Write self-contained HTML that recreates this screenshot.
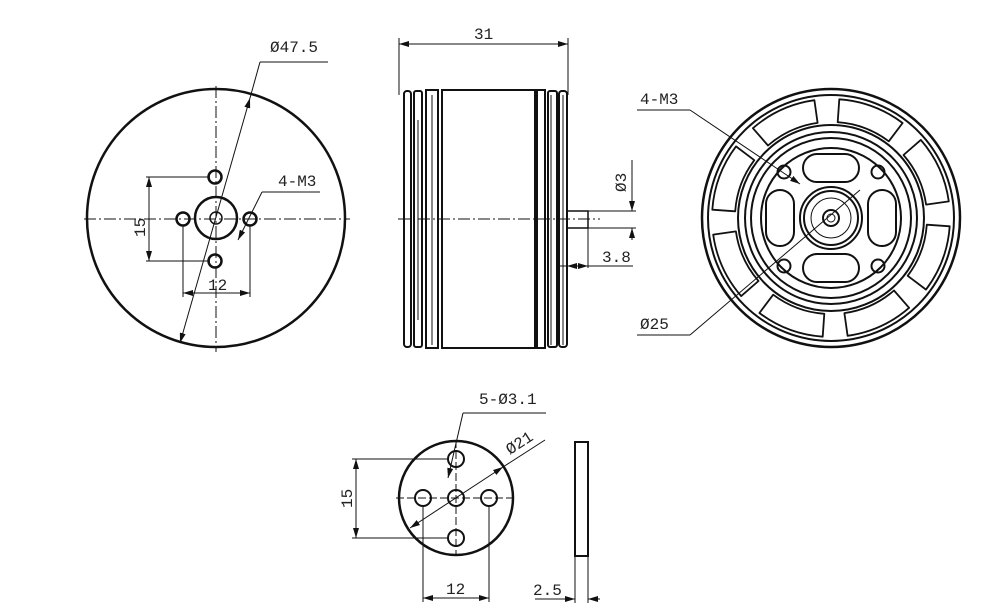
<!DOCTYPE html>
<html><head><meta charset="utf-8"><style>
html,body{margin:0;padding:0;background:#fff;}
svg{display:block;}
text{font-family:"Liberation Mono","DejaVu Sans Mono",monospace;font-size:16px;fill:#222;stroke:none;font-weight:normal;}
</style></head><body>
<svg id="s" width="1002" height="614" viewBox="0 0 1002 614" xmlns="http://www.w3.org/2000/svg" stroke="#111" fill="none">
<defs><marker id="a" viewBox="0 0 10 6" refX="10" refY="3" markerWidth="10" markerHeight="6" orient="auto-start-reverse" markerUnits="userSpaceOnUse"><path d="M0 0L10 3L0 6Z" fill="#111" stroke="none"/></marker></defs>
<!-- LEFT VIEW -->
<circle cx="216" cy="218" r="129" stroke-width="2.5"/>
<g stroke-width="1" stroke-dasharray="12,3,2,3">
<line x1="84" y1="219" x2="350" y2="219"/><line x1="216" y1="86" x2="216" y2="352"/>
</g>
<circle cx="216" cy="218" r="21" stroke-width="2.5"/>
<circle cx="216" cy="218" r="6" stroke-width="1.5"/>
<g stroke-width="2.5"><circle cx="215" cy="177" r="6.5"/><circle cx="215" cy="261" r="6.5"/><circle cx="183" cy="219" r="6.5"/><circle cx="250" cy="219" r="6.5"/></g>
<g stroke-width="1">
<line x1="146" y1="177" x2="210" y2="177"/><line x1="146" y1="261" x2="210" y2="261"/>
<line x1="149" y1="177" x2="149" y2="261" marker-start="url(#a)" marker-end="url(#a)"/>
<line x1="183" y1="225" x2="183" y2="297"/><line x1="250" y1="225" x2="250" y2="297"/>
<line x1="183" y1="293" x2="250" y2="293" marker-start="url(#a)" marker-end="url(#a)"/>
<line x1="180" y1="343" x2="250" y2="98" marker-start="url(#a)" marker-end="url(#a)"/><line x1="250" y1="98" x2="260" y2="62"/><line x1="260" y1="62" x2="328" y2="62"/>
<line x1="262" y1="192" x2="238" y2="240" marker-end="url(#a)"/><line x1="262" y1="192" x2="320" y2="192"/>
</g>
<text x="270" y="52">Ø47.5</text>
<text x="278" y="186">4-M3</text>
<text x="208" y="290">12</text>
<text transform="translate(145,237) rotate(-90)">15</text>
<!-- SIDE VIEW -->
<g stroke-width="1">
<line x1="399" y1="38" x2="399" y2="95"/><line x1="568" y1="38" x2="568" y2="95"/>
<line x1="399" y1="44" x2="568" y2="44" marker-start="url(#a)" marker-end="url(#a)"/>
</g>
<text x="474" y="39">31</text>
<g stroke-width="2">
<rect x="442" y="90" width="93" height="258"/>
<rect x="404" y="91" width="7" height="256" rx="3"/>
<rect x="414" y="91" width="8" height="256" rx="2"/>
<rect x="426" y="90" width="12" height="258"/>
<rect x="537" y="90" width="8" height="258"/>
<rect x="548" y="91" width="9" height="256" rx="2"/>
<rect x="559" y="91" width="8" height="256" rx="3"/>
<rect x="567" y="211" width="21" height="17" stroke-width="1.5"/>
</g>
<g stroke-width="1">
<line x1="418" y1="120" x2="418" y2="320"/><line x1="432" y1="95" x2="432" y2="345"/>
<line x1="551" y1="95" x2="551" y2="345"/><line x1="563" y1="95" x2="563" y2="345"/>
<line x1="398" y1="219" x2="600" y2="219" stroke-dasharray="12,3,2,3"/>
<line x1="588" y1="211" x2="636" y2="211"/><line x1="588" y1="228" x2="636" y2="228"/>
<line x1="632" y1="160" x2="632" y2="211" marker-end="url(#a)"/>
<line x1="632" y1="240" x2="632" y2="228" marker-end="url(#a)"/>
<line x1="588" y1="228" x2="588" y2="268"/>
<line x1="567" y1="266" x2="588" y2="266" marker-start="url(#a)" marker-end="url(#a)"/><line x1="560" y1="266" x2="633" y2="266"/>
</g>
<text transform="translate(626,192) rotate(-90)">Ø3</text>
<text x="602" y="262">3.8</text>
<!-- RIGHT VIEW -->
<g stroke-width="2">
<circle cx="831" cy="218" r="129" stroke-width="2.5"/>
<circle cx="831" cy="218" r="123"/>
<circle cx="831" cy="218" r="93"/>
<circle cx="831" cy="218" r="86"/>
<circle cx="831" cy="218" r="80"/>
<circle cx="831" cy="218" r="70"/>
<circle cx="831" cy="218" r="31"/>
<circle cx="831" cy="218" r="27"/>
<circle cx="831" cy="218" r="20" stroke-width="1"/>
<circle cx="831" cy="218" r="8"/>
<circle cx="831" cy="218" r="4" stroke-width="1"/>
<rect x="803" y="154" width="56" height="28" rx="14"/>
<rect x="803" y="254" width="56" height="28" rx="14"/>
<rect x="766" y="190" width="28" height="56" rx="14"/>
<rect x="868" y="190" width="28" height="56" rx="14"/>
<circle cx="784" cy="172" r="6.5"/><circle cx="878" cy="172" r="6.5"/>
<circle cx="784" cy="266" r="6.5"/><circle cx="878" cy="266" r="6.5"/>
</g>
<g stroke-width="1">
<line x1="637" y1="110" x2="690" y2="110"/><line x1="690" y1="110" x2="800" y2="184" marker-end="url(#a)"/>
<line x1="637" y1="335" x2="690" y2="335"/><line x1="690" y1="335" x2="860" y2="190"/>
</g>
<text x="640" y="104">4-M3</text>
<text x="640" y="329">Ø25</text>
<!-- BOTTOM PLATE -->
<circle cx="456" cy="498" r="57" stroke-width="2.5"/>
<g stroke-width="2"><circle cx="456" cy="498" r="8"/><circle cx="456" cy="459" r="8"/><circle cx="456" cy="538" r="8"/><circle cx="423" cy="498" r="8"/><circle cx="489" cy="498" r="8"/></g>
<g stroke-width="1">
<line x1="396" y1="498" x2="516" y2="498" stroke-dasharray="8,3"/>
<line x1="456" y1="440" x2="456" y2="556" stroke-dasharray="8,3"/>
<line x1="352" y1="459" x2="448" y2="459"/><line x1="352" y1="538" x2="448" y2="538"/>
<line x1="356" y1="459" x2="356" y2="538" marker-start="url(#a)" marker-end="url(#a)"/>
<line x1="423" y1="506" x2="423" y2="602"/><line x1="489" y1="506" x2="489" y2="602"/>
<line x1="423" y1="598" x2="489" y2="598" marker-start="url(#a)" marker-end="url(#a)"/>
<line x1="410" y1="528" x2="503" y2="467" marker-start="url(#a)" marker-end="url(#a)"/><line x1="503" y1="467" x2="545" y2="440"/>
<line x1="463" y1="413" x2="546" y2="413"/><line x1="463" y1="413" x2="448" y2="478" marker-end="url(#a)"/>
<line x1="575" y1="556" x2="575" y2="603"/><line x1="588" y1="556" x2="588" y2="603"/>
<line x1="535" y1="599" x2="575" y2="599" marker-end="url(#a)"/><line x1="600" y1="599" x2="588" y2="599" marker-end="url(#a)"/>
</g>
<rect x="575" y="442" width="13" height="114" stroke-width="2"/>
<text x="479" y="404">5-Ø3.1</text>
<text transform="translate(510,455) rotate(-33)">Ø21</text>
<text transform="translate(352,508) rotate(-90)">15</text>
<text x="446" y="594">12</text>
<text x="533" y="595">2.5</text>
<g id="pk" stroke-width="1.8"></g>
</svg>
<script>
(function(){var g=document.getElementById('pk'),cx=831,cy=218,r1=96,r2=119,s='';
var starts=[8,53,98,143,188,233,278,323];
starts.forEach(function(a){var b=a+33,A=a*Math.PI/180,B=b*Math.PI/180;
function p(r,t){return (cx+r*Math.cos(t)).toFixed(1)+' '+(cy-r*Math.sin(t)).toFixed(1);}
s+='<path d="M'+p(r1,A)+' A'+r1+' '+r1+' 0 0 0 '+p(r1,B)+' L'+p(r2,B)+' A'+r2+' '+r2+' 0 0 1 '+p(r2,A)+' Z" stroke-linejoin="round"/>';});
g.innerHTML=s;})();
</script>
</body></html>
